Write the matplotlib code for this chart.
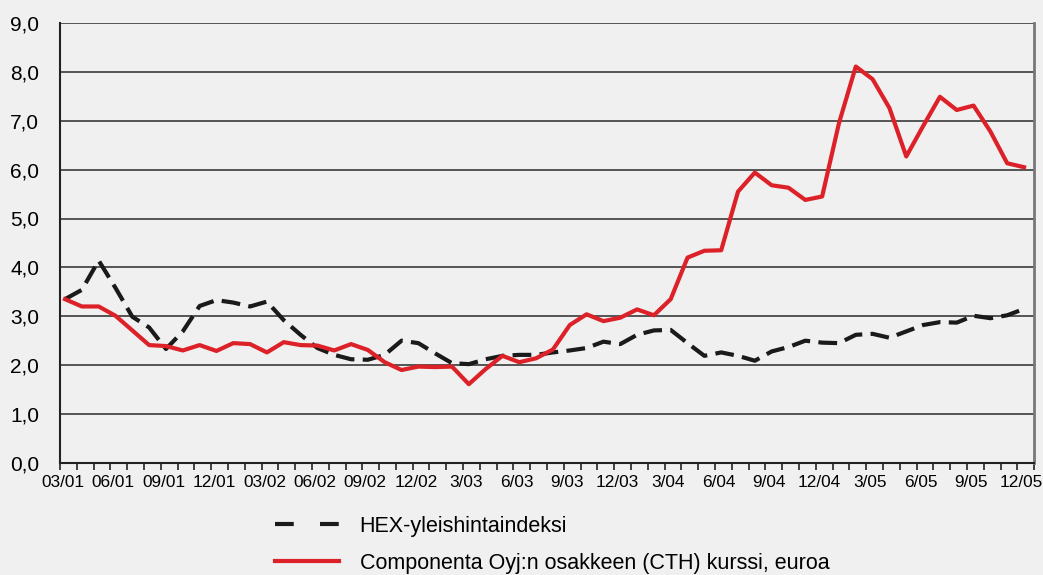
import numpy as np
import matplotlib
matplotlib.use('Agg')
import matplotlib.pyplot as plt
from matplotlib.lines import Line2D
from matplotlib.ticker import FuncFormatter

plt.rcParams['font.family'] = ['Liberation Sans', 'DejaVu Sans']

# Monthly values 03/2001 - 12/2005
hex_index = [3.35, 3.54, 4.14, 3.58, 2.99, 2.77, 2.33, 2.69, 3.21, 3.33,
             3.28, 3.20, 3.30, 2.92, 2.62, 2.35, 2.21, 2.12, 2.11, 2.21,
             2.50, 2.45, 2.24, 2.04, 2.02, 2.12, 2.19, 2.21, 2.21, 2.26,
             2.30, 2.35, 2.48, 2.43, 2.62, 2.71, 2.72, 2.45, 2.19, 2.26,
             2.19, 2.09, 2.28, 2.37, 2.50, 2.46, 2.45, 2.62, 2.64, 2.56,
             2.69, 2.82, 2.88, 2.87, 3.01, 2.96, 3.02, 3.15]
cth_price = [3.35, 3.20, 3.20, 3.01, 2.71, 2.41, 2.39, 2.30, 2.41, 2.29,
             2.45, 2.43, 2.26, 2.47, 2.41, 2.40, 2.30, 2.43, 2.31, 2.06,
             1.90, 1.97, 1.96, 1.97, 1.61, 1.92, 2.19, 2.06, 2.14, 2.32,
             2.82, 3.04, 2.90, 2.97, 3.14, 3.02, 3.35, 4.20, 4.34, 4.35,
             5.55, 5.94, 5.68, 5.63, 5.38, 5.45, 6.95, 8.11, 7.85, 7.26,
             6.27, 6.89, 7.49, 7.22, 7.31, 6.78, 6.13, 6.05]
tick_labels = ['03/01', '06/01', '09/01', '12/01', '03/02', '06/02', '09/02',
               '12/02', '3/03', '6/03', '9/03', '12/03', '3/04', '6/04',
               '9/04', '12/04', '3/05', '6/05', '9/05', '12/05']

labels = ['HEX-yleishintaindeksi', 'Componenta Oyj:n osakkeen (CTH) kurssi, euroa']

bg = '#f0f0f0'
hex_color = '#1a1a1a'
cth_color = '#dc2128'
months = np.arange(len(cth_price))

fig = plt.figure(figsize=(10.43, 5.75), dpi=100, facecolor=bg)
ax = fig.add_axes([0.0575, 0.195, 0.934, 0.765], facecolor=bg)

ax.plot(months, hex_index, color=hex_color, lw=3, dashes=(4.5, 2.0),
        dash_capstyle='butt')
ax.plot(months, cth_price, color=cth_color, lw=3)

# axes ranges and grid
x0, x1 = -0.3, 57.6
ax.set_xlim(x0, x1)
ax.set_ylim(0, 9)
ax.set_yticks(np.arange(0, 10, 1))
ax.yaxis.set_major_formatter(FuncFormatter(lambda v, p: f'{v:.1f}'.replace('.', ',')))
ax.grid(axis='y', color='#3a3a3a', lw=1.2)
ax.set_axisbelow(True)

# labels sit a little left of the data points, small ticks on month boundaries
ax.set_xticks(months[::3] - 0.15)
ax.set_xticklabels(tick_labels)
ax.set_xticks(np.linspace(x0, x1, 59), minor=True)
ax.tick_params(axis='x', which='major', length=0, pad=9, labelsize=12.4)
ax.tick_params(axis='x', which='minor', length=5, width=1.2, color='#222222')
ax.tick_params(axis='y', length=0, pad=15, labelsize=15)

ax.spines['top'].set_visible(False)
ax.spines['left'].set_color('#222222')
ax.spines['left'].set_linewidth(1.5)
ax.spines['bottom'].set_color('#222222')
ax.spines['bottom'].set_linewidth(1.5)
ax.spines['right'].set_color('#777777')
ax.spines['right'].set_linewidth(2)

# legend handles (the legend uses wider dash gaps than the line)
handles = [Line2D([], [], color=hex_color, lw=3, dashes=(4.5, 6.3), dash_capstyle='butt'),
           Line2D([], [], color=cth_color, lw=3)]
fig.legend(handles, labels, loc='upper left', bbox_to_anchor=(0.2637, 0.103),
           frameon=False, borderpad=0, borderaxespad=0, fontsize=15.5,
           handlelength=2.98, handletextpad=0.95, labelspacing=0.74)

plt.savefig('out.png', dpi=100, facecolor=bg)
plt.close()
